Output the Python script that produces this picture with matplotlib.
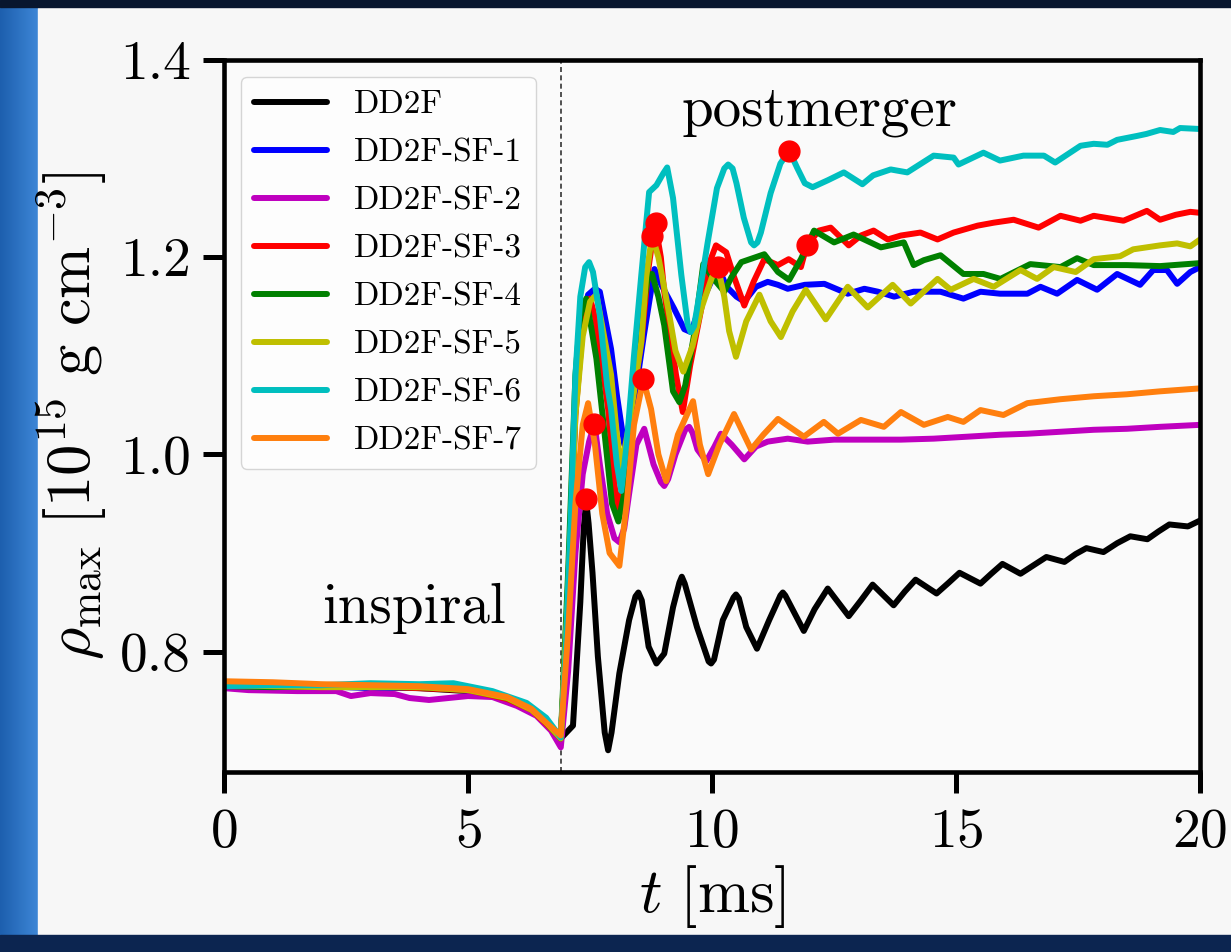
import matplotlib
matplotlib.use("Agg")
import matplotlib.pyplot as plt
from matplotlib.patches import Rectangle
import numpy as np

plt.rcParams['font.family'] = 'serif'
plt.rcParams['font.serif'] = ['cmr10']
plt.rcParams['mathtext.fontset'] = 'cm'
plt.rcParams['axes.unicode_minus'] = False
plt.rcParams['axes.formatter.use_mathtext'] = True

# rho_max [1e15 g/cm^3] vs t [ms]
t_dd2f = [0, 1, 2, 3, 4, 5, 5.8, 6.3, 6.6, 6.9, 7.15, 7.3, 7.37, 7.42, 7.47, 7.55,
          7.66, 7.8, 7.87, 7.94, 8.1, 8.3, 8.43, 8.49, 8.56, 8.7, 8.86, 9.02, 9.2,
          9.33, 9.38, 9.44, 9.69, 9.93, 9.98, 10.04, 10.22, 10.44, 10.49, 10.55,
          10.7, 10.92, 11.17, 11.4, 11.45, 11.5, 11.88, 12.1, 12.37, 12.8, 13.05,
          13.29, 13.72, 13.95, 14.17, 14.6, 14.85, 15.07, 15.5, 15.72, 15.95,
          16.32, 16.6, 16.85, 17.22, 17.45, 17.67, 18.02, 18.3, 18.57, 18.92,
          19.15, 19.37, 19.75, 20.0]
rho_dd2f = [0.766, 0.765, 0.765, 0.764, 0.763, 0.760, 0.752, 0.740, 0.728, 0.712,
            0.725, 0.85, 0.925, 0.953, 0.930, 0.880, 0.795, 0.718, 0.700, 0.718,
            0.778, 0.832, 0.856, 0.860, 0.852, 0.805, 0.788, 0.798, 0.845, 0.870,
            0.876, 0.869, 0.825, 0.790, 0.788, 0.792, 0.832, 0.855, 0.858, 0.854,
            0.825, 0.803, 0.832, 0.857, 0.860, 0.857, 0.821, 0.843, 0.864, 0.836,
            0.852, 0.868, 0.847, 0.861, 0.873, 0.859, 0.870, 0.880, 0.869, 0.879,
            0.889, 0.879, 0.888, 0.896, 0.891, 0.899, 0.905, 0.901, 0.910, 0.917,
            0.914, 0.922, 0.929, 0.927, 0.933]

t_sf1 = [0, 1, 2, 3, 4, 5, 5.8, 6.3, 6.6, 6.9, 7.05, 7.2, 7.35, 7.46, 7.6, 7.7,
         7.8, 7.93, 8.05, 8.2, 8.38, 8.6, 8.82, 8.96, 9.22, 9.43, 9.57, 9.75,
         9.98, 10.12, 10.3, 10.5, 10.66, 10.9, 11.14, 11.35, 11.55, 11.9, 12.3,
         12.78, 13.12, 13.4, 13.73, 14.13, 14.68, 15.15, 15.5, 15.9, 16.46,
         16.73, 17.07, 17.48, 17.89, 18.3, 18.77, 19.04, 19.32, 19.53, 19.8, 20.0]
rho_sf1 = [0.765, 0.764, 0.765, 0.763, 0.764, 0.761, 0.753, 0.741, 0.728, 0.712,
           0.85, 1.05, 1.14, 1.162, 1.168, 1.165, 1.14, 1.107, 1.06, 1.010, 1.046,
           1.12, 1.188, 1.172, 1.148, 1.127, 1.124, 1.15, 1.175, 1.19, 1.17, 1.16,
           1.155, 1.17, 1.175, 1.172, 1.168, 1.172, 1.173, 1.163, 1.168, 1.165,
           1.160, 1.165, 1.165, 1.158, 1.165, 1.163, 1.163, 1.17, 1.163, 1.177,
           1.167, 1.183, 1.172, 1.187, 1.187, 1.173, 1.185, 1.19]

t_sf2 = [0, 0.5, 1.5, 2.3, 2.6, 3.0, 3.5, 3.8, 4.2, 4.6, 5.0, 5.5, 6.0, 6.4, 6.7,
         6.9, 7.05, 7.2, 7.35, 7.48, 7.59, 7.7, 7.85, 8.0, 8.1, 8.2, 8.3, 8.45,
         8.61, 8.8, 8.95, 9.02, 9.1, 9.25, 9.45, 9.53, 9.6, 9.7, 9.88, 10.05,
         10.18, 10.4, 10.66, 10.9, 11.14, 11.55, 11.96, 12.5, 13.19, 13.87,
         14.54, 15.23, 15.91, 16.46, 17.14, 17.82, 18.5, 19.18, 20.0]
rho_sf2 = [0.763, 0.761, 0.760, 0.760, 0.755, 0.758, 0.757, 0.753, 0.751, 0.753,
           0.755, 0.754, 0.745, 0.735, 0.720, 0.703, 0.78, 0.90, 0.98, 1.013,
           1.031, 0.99, 0.94, 0.915, 0.911, 0.925, 0.96, 1.01, 1.026, 0.99,
           0.972, 0.968, 0.975, 1.00, 1.025, 1.028, 1.022, 1.005, 0.993, 1.008,
           1.021, 1.01, 0.995, 1.008, 1.013, 1.016, 1.013, 1.015, 1.015, 1.015,
           1.016, 1.018, 1.02, 1.021, 1.023, 1.025, 1.026, 1.028, 1.03]

t_sf3 = [0, 1, 2, 3, 4, 5, 5.8, 6.3, 6.6, 6.9, 7.05, 7.2, 7.35, 7.5, 7.6, 7.75,
         7.87, 8.0, 8.08, 8.2, 8.35, 8.55, 8.7, 8.83, 8.95, 9.02, 9.15, 9.26, 9.4,
         9.55, 9.78, 9.95, 10.08, 10.29, 10.45, 10.66, 10.85, 11.07, 11.35, 11.57,
         11.82, 11.94, 12.19, 12.43, 12.8, 13.05, 13.31, 13.6, 13.87, 14.27,
         14.62, 14.95, 15.09, 15.44, 15.77, 16.18, 16.69, 17.14, 17.55, 17.82,
         18.43, 18.91, 19.18, 19.5, 19.8, 20.0]
rho_sf3 = [0.766, 0.765, 0.764, 0.765, 0.763, 0.761, 0.752, 0.741, 0.727, 0.712,
           0.85, 1.04, 1.13, 1.158, 1.14, 1.09, 1.046, 0.97, 0.939, 0.98, 1.05,
           1.114, 1.19, 1.235, 1.20, 1.165, 1.12, 1.081, 1.043, 1.09, 1.148,
           1.195, 1.212, 1.205, 1.18, 1.151, 1.175, 1.198, 1.192, 1.198, 1.19,
           1.212, 1.227, 1.230, 1.212, 1.222, 1.227, 1.218, 1.222, 1.225, 1.218,
           1.225, 1.227, 1.232, 1.235, 1.238, 1.23, 1.242, 1.237, 1.242, 1.237,
           1.247, 1.238, 1.243, 1.246, 1.245]

t_sf4 = [0, 1, 2, 3, 4, 5, 5.8, 6.3, 6.6, 6.9, 7.05, 7.2, 7.3, 7.42, 7.52, 7.63,
         7.8, 7.95, 8.08, 8.2, 8.35, 8.5, 8.69, 8.77, 8.9, 9.02, 9.2, 9.33, 9.45,
         9.63, 9.82, 10.0, 10.25, 10.4, 10.6, 11.07, 11.35, 11.58, 11.82, 12.09,
         12.5, 12.9, 13.46, 13.93, 14.13, 14.34, 14.68, 15.15, 15.56, 15.91,
         16.52, 17.14, 17.48, 17.82, 18.5, 19.18, 20.0]
rho_sf4 = [0.765, 0.764, 0.765, 0.765, 0.764, 0.762, 0.753, 0.742, 0.728, 0.712,
           0.88, 1.08, 1.14, 1.158, 1.13, 1.097, 1.02, 0.95, 0.932, 0.96, 1.05,
           1.12, 1.182, 1.183, 1.16, 1.131, 1.064, 1.053, 1.07, 1.121, 1.193,
           1.18, 1.165, 1.18, 1.195, 1.203, 1.185, 1.177, 1.198, 1.227, 1.215,
           1.223, 1.21, 1.215, 1.192, 1.197, 1.202, 1.183, 1.183, 1.178, 1.193,
           1.19, 1.199, 1.192, 1.192, 1.191, 1.194]

t_sf5 = [0, 1, 2, 3, 4, 5, 5.8, 6.3, 6.6, 6.9, 7.05, 7.2, 7.35, 7.5, 7.63, 7.75,
         7.93, 8.05, 8.14, 8.3, 8.55, 8.65, 8.77, 8.9, 9.1, 9.25, 9.41, 9.6, 9.78,
         10.0, 10.12, 10.25, 10.35, 10.49, 10.7, 10.97, 11.2, 11.41, 11.65,
         11.92, 12.33, 12.78, 13.19, 13.7, 14.07, 14.62, 14.89, 15.36, 15.77,
         16.32, 16.66, 17.0, 17.45, 17.82, 18.36, 18.63, 19.18, 19.53, 19.8, 20.0]
rho_sf5 = [0.766, 0.765, 0.764, 0.764, 0.764, 0.761, 0.753, 0.741, 0.728, 0.712,
           0.86, 1.04, 1.12, 1.155, 1.162, 1.13, 1.081, 1.02, 0.986, 1.03, 1.114,
           1.18, 1.222, 1.20, 1.148, 1.105, 1.084, 1.11, 1.148, 1.18, 1.19, 1.16,
           1.125, 1.099, 1.135, 1.162, 1.135, 1.119, 1.145, 1.167, 1.137, 1.17,
           1.149, 1.172, 1.153, 1.178, 1.167, 1.178, 1.17, 1.187, 1.178, 1.19,
           1.185, 1.198, 1.201, 1.208, 1.212, 1.214, 1.211, 1.218]

t_sf6 = [0, 1, 2, 3, 4, 4.7, 5.5, 6.2, 6.6, 6.9, 7.0, 7.1, 7.2, 7.3, 7.4, 7.48,
         7.56, 7.7, 7.85, 7.93, 8.05, 8.14, 8.25, 8.4, 8.55, 8.71, 8.86, 9.0,
         9.08, 9.2, 9.37, 9.5, 9.56, 9.63, 9.7, 9.91, 10.1, 10.25, 10.33, 10.42,
         10.5, 10.65, 10.8, 10.86, 10.93, 11.0, 11.2, 11.4, 11.58, 11.75, 11.9,
         12.06, 12.37, 12.7, 13.08, 13.3, 13.66, 14.0, 14.54, 14.95, 15.05, 15.56,
         15.9, 16.38, 16.8, 17.03, 17.55, 17.82, 18.1, 18.3, 18.71, 18.9, 19.18,
         19.45, 19.59, 20.0]
rho_sf6 = [0.765, 0.766, 0.766, 0.768, 0.767, 0.768, 0.760, 0.748, 0.733, 0.713,
           0.80, 0.93, 1.08, 1.16, 1.19, 1.195, 1.185, 1.141, 1.07, 1.046, 0.99,
           0.963, 1.01, 1.10, 1.182, 1.266, 1.273, 1.285, 1.291, 1.26, 1.182,
           1.132, 1.124, 1.13, 1.15, 1.215, 1.27, 1.29, 1.294, 1.29, 1.275, 1.24,
           1.215, 1.212, 1.215, 1.225, 1.265, 1.295, 1.308, 1.29, 1.275, 1.271,
           1.278, 1.286, 1.274, 1.283, 1.289, 1.286, 1.303, 1.301, 1.294, 1.306,
           1.298, 1.303, 1.303, 1.296, 1.313, 1.315, 1.314, 1.319, 1.323, 1.325,
           1.329, 1.327, 1.331, 1.330]

t_sf7 = [0, 1, 2, 3, 4, 5, 5.8, 6.3, 6.6, 6.9, 7.05, 7.2, 7.35, 7.46, 7.6, 7.75,
         7.9, 8.1, 8.25, 8.4, 8.59, 8.75, 8.9, 9.06, 9.3, 9.61, 9.75, 9.92, 10.15,
         10.45, 10.8, 11.05, 11.35, 11.88, 12.29, 12.58, 13.05, 13.52, 13.87,
         14.34, 14.83, 15.15, 15.5, 15.97, 16.46, 17.14, 17.82, 18.5, 19.18, 20.0]
rho_sf7 = [0.770, 0.769, 0.767, 0.766, 0.765, 0.762, 0.754, 0.742, 0.728, 0.715,
           0.82, 0.95, 1.03, 1.052, 1.01, 0.94, 0.90, 0.887, 0.95, 1.03, 1.076,
           1.046, 1.00, 0.973, 1.02, 1.054, 1.01, 0.98, 1.01, 1.041, 1.005, 1.02,
           1.036, 1.018, 1.033, 1.021, 1.035, 1.028, 1.043, 1.03, 1.038, 1.033,
           1.045, 1.04, 1.052, 1.056, 1.059, 1.061, 1.064, 1.067]

# red markers
t_dots = [7.42, 7.59, 8.59, 8.77, 8.85, 10.12, 11.57, 11.94]
rho_dots = [0.955, 1.031, 1.077, 1.221, 1.235, 1.190, 1.308, 1.212]

t_merger = 6.9

labels = ['DD2F', 'DD2F-SF-1', 'DD2F-SF-2', 'DD2F-SF-3', 'DD2F-SF-4',
          'DD2F-SF-5', 'DD2F-SF-6', 'DD2F-SF-7']
colors = ['k', 'b', 'm', 'r', 'g', 'y', 'c', '#ff7f0e']
series = [(t_dd2f, rho_dd2f), (t_sf1, rho_sf1), (t_sf2, rho_sf2),
          (t_sf3, rho_sf3), (t_sf4, rho_sf4), (t_sf5, rho_sf5),
          (t_sf6, rho_sf6), (t_sf7, rho_sf7)]

fig = plt.figure(figsize=(12.31, 9.52), dpi=100)
fig.patch.set_facecolor('#0a1c3c')

# slide background: blue strip on the left, light panel
bg = fig.add_axes([0, 0, 1, 1], zorder=-10)
bg.set_axis_off()
grad = np.linspace(0, 1, 64)[None, :]
bg.imshow(grad, extent=[0, 38, 952, 0], cmap=matplotlib.colors.LinearSegmentedColormap.from_list(
    'strip', ['#1d5fae', '#3d86d6']), aspect='auto')
bg.add_patch(Rectangle((1222, 250), 9, 702, color='#2a6ab8'))
bg.add_patch(Rectangle((38, 8), 1193, 927, color='#f7f7f7'))
bg.add_patch(Rectangle((0, 0), 1231, 7, color='#08162e'))
bg.add_patch(Rectangle((0, 935), 1231, 17, color='#0c2550'))
bg.set_xlim(0, 1231)
bg.set_ylim(952, 0)

ax = fig.add_axes([0.1820, 0.1891, 0.7929, 0.7479])
ax.set_facecolor('#fafafa')

for (tt, rr), lab, col in zip(series, labels, colors):
    ax.plot(tt, rr, color=col, lw=4.3, label=lab, solid_joinstyle='round',
            solid_capstyle='round')

ax.plot(t_dots, rho_dots, 'o', color='r', ms=15, zorder=5)
ax.axvline(t_merger, color='#333333', lw=1.2, ls=(0, (3, 2)), zorder=0)

ax.set_xlim(0, 20)
ax.set_ylim(0.678, 1.4)
ax.set_xticks([0, 5, 10, 15, 20])
ax.set_yticks([0.8, 1.0, 1.2, 1.4])
ax.set_yticklabels(['0.8', '1.0', '1.2', '1.4'])
ax.tick_params(direction='out', length=15, width=3.6, labelsize=40, pad=9)
ax.tick_params(axis='x', pad=11)
for s in ax.spines.values():
    s.set_linewidth(3.3)

ax.set_xlabel(r'$t\ [{\rm ms}]$', fontsize=45, labelpad=4)
ax.set_ylabel(r'$\rho_{\rm max}\ [10^{15}\ {\rm g\ cm^{-3}}]$', fontsize=45,
              labelpad=8)

ax.text(3.9, 0.829, 'inspiral', fontsize=41, ha='center', va='baseline')
ax.text(12.19, 1.334, 'postmerger', fontsize=41, ha='center', va='baseline')

ax.legend(loc='upper left', fontsize=24, handlelength=2.2, handletextpad=0.8,
          labelspacing=0.56, borderaxespad=0.5, borderpad=0.4)

fig.savefig('out.png', dpi=100, facecolor=fig.get_facecolor())
